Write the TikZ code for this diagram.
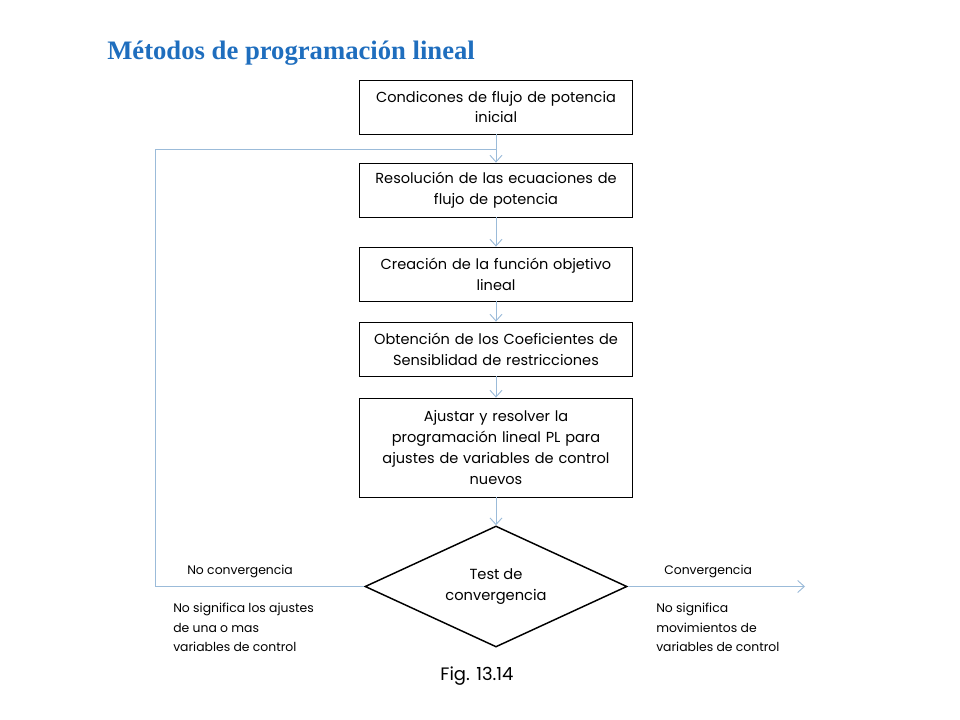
\documentclass[tikz,border=0pt]{standalone}
\usepackage{fontspec}
\setmainfont{Poppins}
\newfontfamily\titlefont{Liberation Serif}
\usetikzlibrary{arrows.meta,shapes.geometric}
\definecolor{flowblue}{RGB}{155,187,217}
\definecolor{titleblue}{RGB}{31,110,190}
\begin{document}
\begin{tikzpicture}[x=0.75pt, y=-0.75pt,
  stepbox/.style={draw=black, line width=0.6pt, rectangle,
             minimum width=273*0.75pt, minimum height=54*0.75pt,
             text width=265*0.75pt, align=center, inner sep=0pt,
             font=\fontsize{10.9}{15.7}\selectfont},
  testnode/.style={draw=black, line width=1.1pt, diamond, aspect=2.17,
             minimum width=262*0.75pt, minimum height=121*0.75pt,
             inner sep=0pt, align=center,
             font=\fontsize{11}{15.7}\selectfont},
  flow/.style={-{Straight Barb[length=5pt, width=9pt]}, flowblue, line width=0.7pt},
  line/.style={flowblue, line width=0.7pt},
  lbl/.style={font=\fontsize{9.3}{14.6}\selectfont, align=left, anchor=west,
             inner sep=0pt},
]
\useasboundingbox (0,0) rectangle (960,720);
% Title
\node[font=\titlefont\bfseries\fontsize{20}{24}\selectfont, text=titleblue,
      anchor=west, inner sep=0pt] (title) at (107,53) {Métodos de programación lineal};
% Steps
\node[stepbox] (s1) at (496,107) {Condicones de flujo de potencia\\ inicial};
\node[stepbox] (s2) at (496,190) {Resolución de las ecuaciones de\\ flujo de potencia};
\node[stepbox] (s3) at (496,274) {Creación de la función objetivo\\ lineal};
\node[stepbox] (s4) at (496,349) {Obtención de los Coeficientes de\\ Sensiblidad de restricciones};
\node[stepbox, minimum height=99*0.75pt] (s5) at (496,447.5)
  {Ajustar y resolver la\\ programación lineal PL para\\ ajustes de variables de control\\ nuevos};
% Test
\node[testnode] (test) at (496,586.5) {Test de\\ convergencia};
% Arrows between steps
\draw[flow] (s1) -- (s2);
\draw[flow] (s2) -- (s3);
\draw[flow] (s3) -- (s4);
\draw[flow] (s4) -- (s5);
\draw[flow] (s5) -- (test);
% Feedback loop
\coordinate (back) at (155,149);
\coordinate (join) at (s1.south |- back);
\draw[line] (test.west) -| (back) -- (join);
% Exit
\coordinate (out) at (805,586.5);
\draw[flow] (test.east) -- (out);
% Labels
\node[lbl] (nc) at (187,571) {No convergencia};
\node[lbl] (cv) at (664,571) {Convergencia};
\node[lbl, anchor=north west] (ncnote) at (173,603)
  {No significa los ajustes\\ de una o mas\\ variables de control};
\node[lbl, anchor=north west] (cvnote) at (656,603)
  {No significa\\ movimientos de\\ variables de control};
\node[font=\fontsize{13.5}{15}\selectfont] (fig) at (477,676) {Fig. 13.14};
\end{tikzpicture}
\end{document}
